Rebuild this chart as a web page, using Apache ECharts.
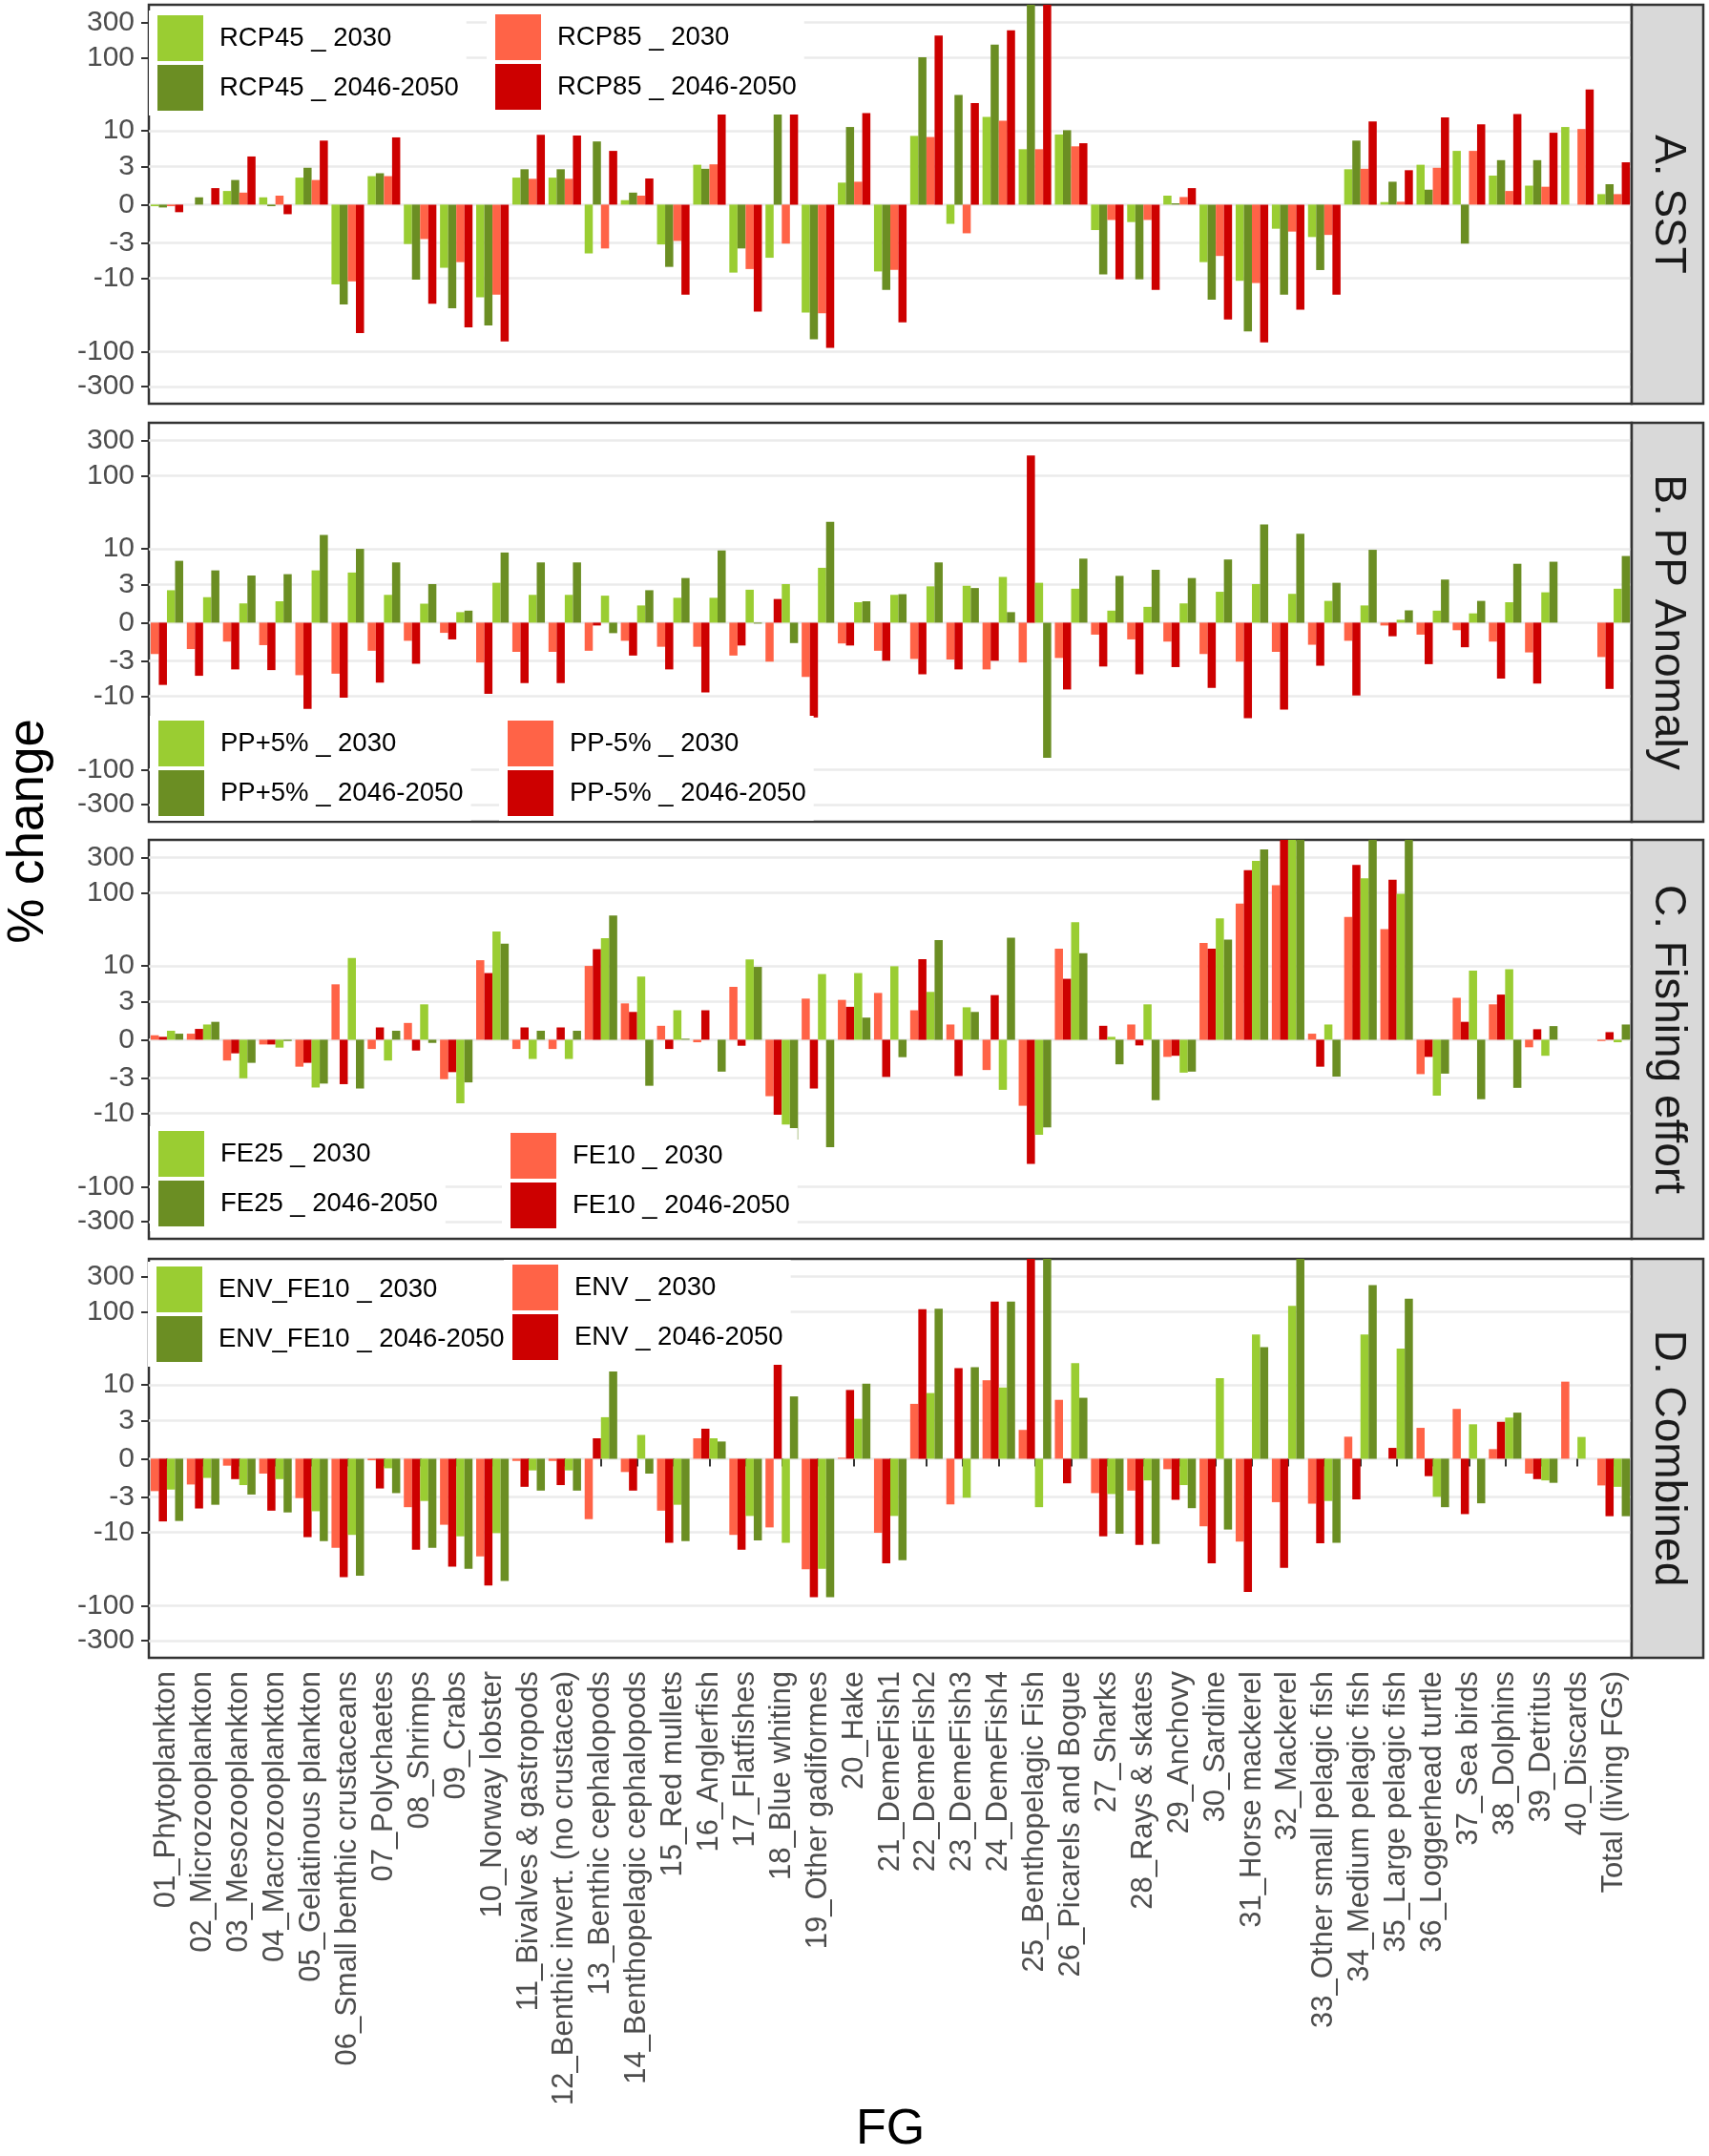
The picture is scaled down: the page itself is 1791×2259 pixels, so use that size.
<!DOCTYPE html>
<html><head><meta charset="utf-8">
<script src="https://cdn.jsdelivr.net/npm/echarts@6/dist/echarts.min.js"></script>
<style>html,body{margin:0;padding:0;background:#fff}#c{width:1791px;height:2259px}</style>
</head><body><div id="c"></div>
<script>
const categories = ["01_Phytoplankton","02_Microzooplankton","03_Mesozooplankton","04_Macrozooplankton","05_Gelatinous plankton","06_Small benthic crustaceans","07_Polychaetes","08_Shrimps","09_Crabs","10_Norway lobster","11_Bivalves & gastropods","12_Benthic invert. (no crustacea)","13_Benthic cephalopods","14_Benthopelagic cephalopods","15_Red mullets","16_Anglerfish","17_Flatfishes","18_Blue whiting","19_Other gadiformes","20_Hake","21_DemeFish1","22_DemeFish2","23_DemeFish3","24_DemeFish4","25_Benthopelagic Fish","26_Picarels and Bogue","27_Sharks","28_Rays & skates","29_Anchovy","30_Sardine","31_Horse mackerel","32_Mackerel","33_Other small pelagic fish","34_Medium pelagic fish","35_Large pelagic fish","36_Loggerhead turtle","37_Sea birds","38_Dolphins","39_Detritus","40_Discards","Total (living FGs)"];
const yTicks = [-300,-100,-10,-3,0,3,10,100,300];

// A. SST
const sstRcp45_2030 = [-0.1,0,0.88,0.46,1.9,-12.1,2.03,-3.15,-7.1,-18.2,1.9,1.9,-4.4,0.28,-3.2,3.2,-8.3,-5.1,-29.4,1.49,-8.0,8.5,-1.28,15.5,5.5,8.9,-1.77,-1.15,0.57,-5.9,-10.8,-1.66,-2.4,2.7,0.16,3.2,5.2,2.08,1.26,11.3,0.67];
const sstRcp45_2046 = [-0.18,0.46,1.7,-0.1,2.86,-22.8,2.3,-10.4,-25.7,-44,2.7,2.7,7.1,0.77,-6.9,2.75,-3.7,19.5,-68,11.3,-14.4,101,31,151,600,10.2,-8.8,-10.3,0.08,-19.7,-53,-16.8,-7.65,7.3,1.56,0.97,-3.1,3.78,3.78,0,1.37];
const sstRcp85_2030 = [-0.1,0,0.77,0.57,1.7,-11,2.03,-2.6,-5.9,-16.8,1.8,1.8,-3.7,0.57,-2.8,3.25,-7.4,-3.1,-30,1.56,-7.6,8.2,-2.05,13.8,5.5,6.05,-1.0,-1.0,0.48,-4.8,-11.6,-1.9,-2.2,2.75,0.18,2.86,5.2,0.88,1.18,10.6,0.67];
const sstRcp85_2046 = [-0.48,1.08,4.3,-0.61,7.3,-56,8.1,-22.3,-47,-73,8.8,8.6,5.2,1.83,-16.8,19.5,-28.5,16.8,-89,17.6,-40,200,24,236,600,6.7,-10.3,-14.4,1.08,-36.5,-75,-27,-16.8,13.5,2.6,15.3,12.3,17,9.4,37,3.5];

// B. PP Anomaly
const ppPlus_2030 = [2.4,1.77,1.28,1.44,4.95,4.6,1.97,1.26,0.67,3.2,1.97,1.97,1.9,1.13,1.72,1.72,2.45,3.05,5.4,1.37,1.97,2.8,2.86,3.95,3.2,2.55,0.77,1.03,1.28,2.25,3.05,2.06,1.47,1.13,0.18,0.77,0.59,1.37,2.2,0,2.55];
const ppPlus_2046 = [6.8,4.95,4.15,4.35,15.5,10,6.45,3.05,0.77,8.9,6.45,6.45,-0.67,2.4,3.8,9.5,-0.06,-1.37,23.5,1.44,2.03,6.45,2.62,0.67,-69,7.3,4.1,5.05,3.8,7.1,21.7,16.1,3.2,9.7,0.79,3.6,1.47,6.17,6.6,0,7.95];
const ppMinus_2030 = [-2.3,-1.85,-1.26,-1.53,-5.0,-4.75,-2.0,-1.2,-0.65,-3.2,-2.1,-2.1,-2.0,-1.2,-1.66,-1.66,-2.45,-3.1,-5.3,-1.4,-2.0,-2.8,-2.86,-4.1,-3.2,-2.7,-0.77,-1.1,-1.26,-2.3,-3.1,-2.1,-1.5,-1.2,-0.18,-0.77,-0.48,-1.26,-2.15,0,-2.6];
const ppMinus_2046 = [-6.9,-5.1,-4.1,-4.2,-14.9,-10.4,-6.4,-3.35,-1.1,-9.2,-6.5,-6.5,-0.18,-2.45,-4.1,-8.8,-1.56,1.62,-19.5,-1.56,-3.0,-4.85,-4.1,-3.0,188,-8.0,-3.7,-4.85,-3.78,-7.6,-20,-15.2,-3.6,-9.7,-0.88,-3.4,-1.7,-5.6,-6.6,0,-7.85];

// C. Fishing effort
const fe10_2030 = [0.28,0.38,-1.4,-0.3,-1.9,5.5,-0.59,1.1,-3.15,12,-0.59,-0.59,10,2.8,0.9,-0.16,5.05,-5.7,3.35,3.2,4.1,2.12,0.99,-2.2,-7.8,17.3,0,0.99,-1.13,20.7,71,127,0.38,47,32,-2.6,3.45,2.7,-0.48,0,-0.08];
const fe10_2046 = [0.18,0.69,-0.88,-0.3,-1.58,-3.78,0.79,-0.69,-2.4,7.95,0.79,0.79,17,1.97,-0.59,2.12,-0.38,-10.4,-4.4,2.45,-2.9,12.4,-2.8,3.8,-49,6.6,0.9,-0.36,-1.05,17.3,203,600,-1.9,240,150,-1.13,1.18,3.87,0.67,0,0.48];
const fe25_2030 = [0.57,0.99,-3.05,-0.5,-4.25,12.9,-1.4,2.7,-7.2,29.7,-1.28,-1.28,24,7.1,2.12,0,12.3,-14.2,7.7,7.95,9.9,4.25,2.4,-4.6,-19.7,39.6,0.18,2.7,-2.45,44.9,271,600,0.99,158,97,-5.6,8.6,9.0,-1.05,0,-0.16];
const fe25_2046 = [0.38,1.18,-1.58,-0.08,-3.7,-4.4,0.57,-0.2,-3.55,20.2,0.57,0.57,49,-4.0,0.06,-2.35,9.7,-22.8,-29,1.5,-1.15,22.7,1.97,24.5,-15.5,15,-1.7,-6.5,-2.35,23,388,600,-2.86,600,600,-2.55,-6.3,-4.3,0.88,0,0.99];

// D. Combined
const env_2030 = [-2.4,-1.8,-0.44,-0.97,-3.15,-16.3,-0.1,-4.35,-7.8,-21.3,-0.14,-0.14,-6.5,-0.86,-4.9,1.37,-10.8,-8.5,-32,0.06,-10.1,5.4,-3.95,11.6,2.06,6.17,-2.6,-2.35,-0.67,-8.2,-13.4,-3.65,-3.85,1.49,0,2.25,4.55,0.61,-0.97,11.1,-1.88];
const env_2046 = [-7.0,-4.55,-1.37,-4.9,-11.6,-41,-2.15,-17.3,-29.4,-53,-2.0,-1.85,1.37,-2.35,-13.9,2.17,-17.3,19.7,-77,8.5,-26.5,108,17,138,600,-1.7,-11.3,-14.9,-3.35,-26.5,-65,-30.5,-14.1,-3.3,0.69,-1.15,-5.5,2.86,-1.37,0,-5.9];
const envFe10_2030 = [-2.25,-1.28,-1.85,-1.37,-5.0,-10.8,-0.61,-3.5,-11.3,-10.2,-0.75,-0.75,3.4,1.63,-4.0,1.37,-5.85,-13.9,-31.6,3.2,-5.85,7.7,-3.1,9.2,-4.35,20,-2.7,-1.47,-1.85,12.4,49,120,-3.5,49,31.6,-3.0,2.6,3.35,-1.47,1.47,-2.0];
const envFe10_2046 = [-6.9,-4.0,-2.75,-5.2,-13.2,-39,-2.6,-16.3,-31.6,-46,-2.35,-2.35,15.3,-0.97,-13.2,1.13,-12.9,6.9,-77,10.4,-24,110,17.6,138,600,6.6,-10.4,-14.4,-4.5,-9.1,33,600,-13.9,231,151,-4.35,-3.8,4.0,-1.66,0,-5.9];

const LG = '#9ACD32', DG = '#6B8E23', LR = '#FF6347', DR = '#CD0000';
const FONT = '"Liberation Sans", Arial, sans-serif';
// pseudo-log (signed) transform, sigma = 1, base 10
const T = v => Math.asinh(v / 2) / Math.LN10;
const tickT = yTicks.map(T);
const tickLabel = val => { for (let i = 0; i < tickT.length; i++) if (Math.abs(tickT[i] - val) < 1e-6) return String(yTicks[i]); return ''; };

const GRID_LEFT = 156, GRID_W = 1554, GRID_H = 418;
const panels = [
  { strip: 'A. SST', top: 5,
    series: [['RCP45 _ 2030', sstRcp45_2030, LG], ['RCP45 _ 2046-2050', sstRcp45_2046, DG], ['RCP85 _ 2030', sstRcp85_2030, LR], ['RCP85 _ 2046-2050', sstRcp85_2046, DR]],
    legends: [{ left: 156, top: 11, names: ['RCP45 _ 2030', 'RCP45 _ 2046-2050'] }, { left: 510, top: 10, names: ['RCP85 _ 2030', 'RCP85 _ 2046-2050'] }] },
  { strip: 'B. PP Anomaly', top: 443,
    series: [['PP-5% _ 2030', ppMinus_2030, LR], ['PP-5% _ 2046-2050', ppMinus_2046, DR], ['PP+5% _ 2030', ppPlus_2030, LG], ['PP+5% _ 2046-2050', ppPlus_2046, DG]],
    legends: [{ left: 157, top: 750, names: ['PP+5% _ 2030', 'PP+5% _ 2046-2050'] }, { left: 523, top: 750, names: ['PP-5% _ 2030', 'PP-5% _ 2046-2050'] }] },
  { strip: 'C. Fishing effort', top: 880,
    series: [['FE10 _ 2030', fe10_2030, LR], ['FE10 _ 2046-2050', fe10_2046, DR], ['FE25 _ 2030', fe25_2030, LG], ['FE25 _ 2046-2050', fe25_2046, DG]],
    legends: [{ left: 157, top: 1180, names: ['FE25 _ 2030', 'FE25 _ 2046-2050'] }, { left: 526, top: 1182, names: ['FE10 _ 2030', 'FE10 _ 2046-2050'] }] },
  { strip: 'D. Combined', top: 1319,
    series: [['ENV _ 2030', env_2030, LR], ['ENV _ 2046-2050', env_2046, DR], ['ENV_FE10 _ 2030', envFe10_2030, LG], ['ENV_FE10 _ 2046-2050', envFe10_2046, DG]],
    legends: [{ left: 155, top: 1322, names: ['ENV_FE10 _ 2030', 'ENV_FE10 _ 2046-2050'] }, { left: 528, top: 1320, names: ['ENV _ 2030', 'ENV _ 2046-2050'] }] }
];

const option = { animation: false, backgroundColor: '#ffffff', grid: [], xAxis: [], yAxis: [], series: [], legend: [], graphic: [] };
panels.forEach((p, i) => {
  const last = i === panels.length - 1;
  option.grid.push({ left: GRID_LEFT, top: p.top, width: GRID_W, height: GRID_H, show: true, borderColor: '#333333', borderWidth: 2.5, backgroundColor: 'transparent' });
  option.xAxis.push({
    type: 'category', gridIndex: i, data: categories,
    axisLine: { show: false },
    axisTick: { show: last, alignWithLabel: true, interval: 0, length: 8, lineStyle: { color: '#333333', width: 2 } },
    axisLabel: { show: last, interval: 0, rotate: 90, fontSize: 31, color: '#4D4D4D', fontFamily: FONT, margin: 14 },
    splitLine: { show: false }
  });
  option.yAxis.push({
    type: 'value', gridIndex: i, min: -2.71, max: 2.72,
    axisLine: { show: false },
    axisTick: { show: true, customValues: tickT, length: 8, lineStyle: { color: '#333333', width: 2 } },
    axisLabel: { customValues: tickT, formatter: tickLabel, fontSize: 30, color: '#4D4D4D', fontFamily: FONT, margin: 15 },
    splitLine: { show: true, lineStyle: { color: '#EBEBEB', width: 2.5 } }
  });
  p.series.forEach(([name, vals, color]) => {
    option.series.push({
      type: 'bar', name, xAxisIndex: i, yAxisIndex: i,
      data: vals.map(T), itemStyle: { color },
      barGap: '0%', barCategoryGap: '10%', emphasis: { disabled: true }, silent: true
    });
  });
  p.legends.forEach(l => {
    option.legend.push({
      orient: 'vertical', left: l.left, top: l.top, data: l.names, icon: 'rect',
      itemWidth: 48, itemHeight: 48, itemGap: 4, selectedMode: false,
      padding: [5, 8, 5, 9], backgroundColor: '#ffffff',
      textStyle: { fontSize: 27.5, color: '#000000', fontFamily: FONT, padding: [0, 0, 0, 12] }
    });
  });
  // facet strip
  option.graphic.push({ type: 'rect', shape: { x: 1710, y: p.top, width: 75, height: GRID_H }, style: { fill: '#D9D9D9', stroke: '#333333', lineWidth: 2.5 }, z: 10 });
  option.graphic.push({ type: 'text', x: 1748, y: p.top + GRID_H / 2, rotation: -Math.PI / 2, z: 11,
    style: { text: p.strip, fontSize: 46, fontFamily: FONT, fill: '#1A1A1A', align: 'center', verticalAlign: 'middle', textAlign: 'center', textVerticalAlign: 'middle' } });
});
option.graphic.push({ type: 'text', x: 30, y: 871, rotation: Math.PI / 2, z: 11,
  style: { text: '% change', fontSize: 53, fontFamily: FONT, fill: '#000000', align: 'center', verticalAlign: 'middle', textAlign: 'center', textVerticalAlign: 'middle' } });
option.graphic.push({ type: 'text', x: 933, y: 2232, z: 11,
  style: { text: 'FG', fontSize: 52, fontFamily: FONT, fill: '#000000', align: 'center', verticalAlign: 'middle', textAlign: 'center', textVerticalAlign: 'middle' } });

const chart = echarts.init(document.getElementById('c'), null, { renderer: 'canvas' });
chart.setOption(option);
</script>
</body></html>
